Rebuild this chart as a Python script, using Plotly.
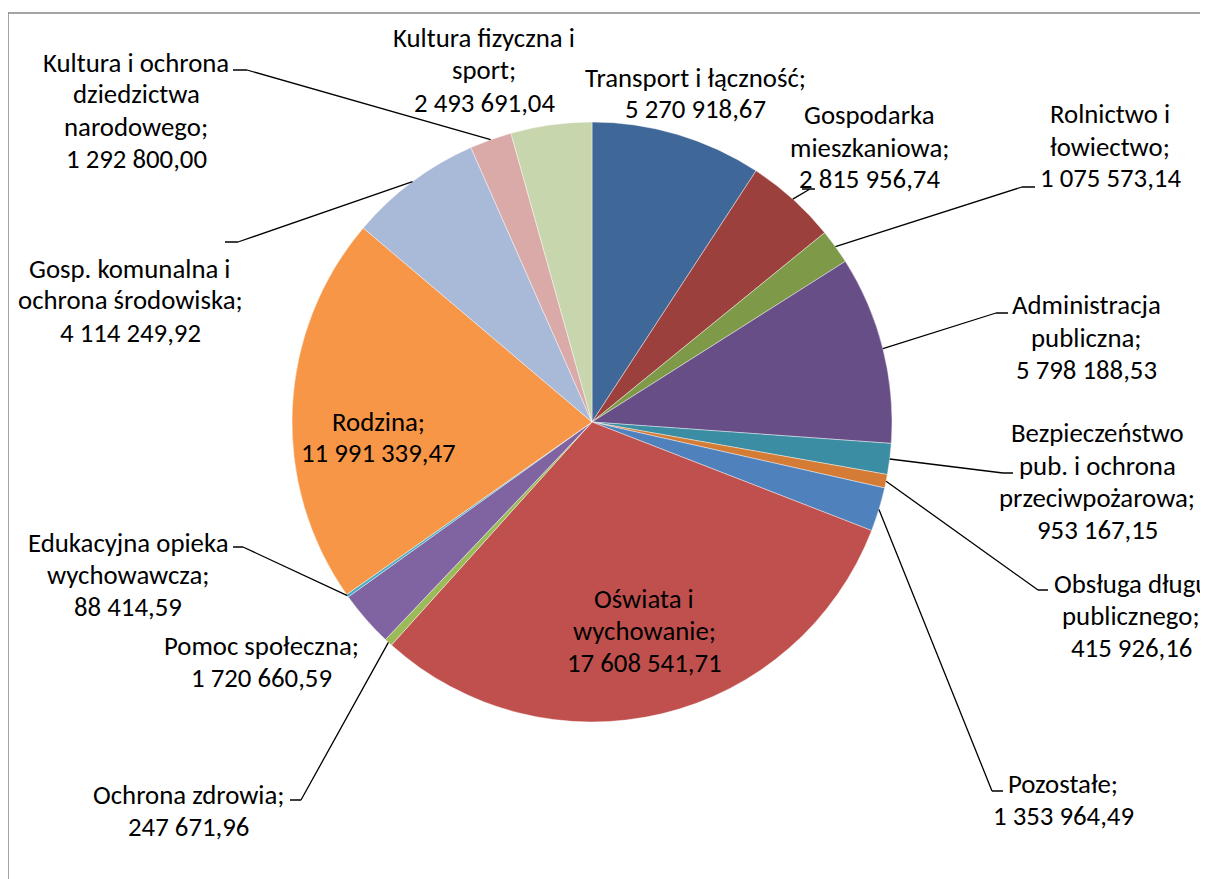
import math
import plotly.graph_objects as go

# dane: wydatki wg działów
categories = [
    "Transport i łączność", "Gospodarka mieszkaniowa", "Rolnictwo i łowiectwo",
    "Administracja publiczna", "Bezpieczeństwo pub. i ochrona przeciwpożarowa",
    "Obsługa długu publicznego", "Pozostałe", "Oświata i wychowanie",
    "Ochrona zdrowia", "Pomoc społeczna", "Edukacyjna opieka wychowawcza",
    "Rodzina", "Gosp. komunalna i ochrona środowiska",
    "Kultura i ochrona dziedzictwa narodowego", "Kultura fizyczna i sport",
]
values = [
    5270918.67, 2815956.74, 1075573.14, 5798188.53, 953167.15,
    415926.16, 1353964.49, 17608541.71, 247671.96, 1720660.59,
    88414.59, 11991339.47, 4114249.92, 1292800.00, 2493691.04,
]
colors = [
    "#3F6899", "#9C403E", "#7E9A48", "#674E86", "#3A8DA2", "#D47C35",
    "#4F81BD", "#C0504D", "#9BBB59", "#8064A2", "#4BACC6", "#F79646",
    "#A9B9D8", "#DAAAA9", "#C7D6AC",
]
# podział nazw na wiersze (jak w oryginale)
label_lines = [
    ["Transport i łączność;"],
    ["Gospodarka", "mieszkaniowa;"],
    ["Rolnictwo i", "łowiectwo;"],
    ["Administracja", "publiczna;"],
    ["Bezpieczeństwo", "pub. i ochrona", "przeciwpożarowa;"],
    ["Obsługa długu", "publicznego;"],
    ["Pozostałe;"],
    ["Oświata i", "wychowanie;"],
    ["Ochrona zdrowia;"],
    ["Pomoc społeczna;"],
    ["Edukacyjna opieka", "wychowawcza;"],
    ["Rodzina;"],
    ["Gosp. komunalna i", "ochrona środowiska;"],
    ["Kultura i ochrona", "dziedzictwa", "narodowego;"],
    ["Kultura fizyczna i", "sport;"],
]

OFF = 8                     # margines strony w przeglądarce
W, H = 1208 - OFF, 879 - OFF
CX, CY, R = 592, 422, 300   # środek i promień koła (px na zrzucie)
LINE_H = 32
FONT = dict(family="Carlito, Calibri, Lato, sans-serif", size=26.8, color="black")

# pozycje etykiet (środek x, y pierwszego wiersza) w px
label_pos = [
    (695, 77), (869, 115), (1110, 114), (1086, 305), (1097, 433),
    (1131, 583), (1063, 783), (644, 598), (188, 794), (261, 645),
    (128, 542), (378, 421), (130, 268), (136, 62), (484, 38),
]
# linie odniesienia: indeks -> (załamanie, odcinek poziomy x0-x1)
leaders = {
    1: ((810, 189), (802, 815)),
    2: ((1022, 187), (1022, 1035)),
    3: ((996, 313), (996, 1008)),
    4: ((1003, 473), (1003, 1013)),
    5: ((1038, 590), (1038, 1048)),
    6: ((992, 791), (992, 1003)),
    8: ((301, 800), (290, 301)),
    10: ((243, 547), (233, 243)),
    12: ((238, 242), (225, 238)),
    13: ((247, 70), (233, 247)),
}


def px(x):
    return (x - OFF) / W


def py(y):
    return 1 - (y - OFF) / H


def fmt(v):
    return f"{v:,.2f}".replace(",", " ").replace(".", ",")


fig = go.Figure(go.Pie(
    labels=categories, values=values, sort=False, direction="clockwise",
    rotation=0, textinfo="none", hoverinfo="label+value",
    marker=dict(colors=colors, line=dict(color="rgba(255,255,255,0.7)", width=0.6)),
    domain=dict(x=[px(CX - R), px(CX + R)], y=[py(CY + R), py(CY - R)]),
    showlegend=False,
))

# etykiety - każdy wiersz osobno, żeby trzymać odstęp jak w Excelu
for i, lines in enumerate(label_lines):
    cx, y0 = label_pos[i]
    for j, t in enumerate(lines + [fmt(values[i])]):
        fig.add_annotation(x=px(cx), y=py(y0 + j * LINE_H), xref="paper", yref="paper",
                           text=t, showarrow=False, xanchor="center", yanchor="middle",
                           font=FONT)

# linie odniesienia liczone od środka kąta wycinka
total = sum(values)
cum = 0
for i, v in enumerate(values):
    mid = (cum + v / 2) / total
    cum += v
    if i not in leaders:
        continue
    ang = 2 * math.pi * mid
    ex, ey = CX + R * math.sin(ang), CY - R * math.cos(ang)
    (bx, by), (h0, h1) = leaders[i]
    path = (f"M {px(ex)},{py(ey)} L {px(bx)},{py(by)} "
            f"M {px(h0)},{py(by)} L {px(h1)},{py(by)}")
    fig.add_shape(type="path", path=path, xref="paper", yref="paper",
                  line=dict(color="black", width=1.3))

# ramka wykresu - tylko lewa i górna krawędź są widoczne
frame = (f"M {px(8)},{py(900)} L {px(8)},{py(13)} L {px(1300)},{py(13)}")
fig.add_shape(type="path", path=frame, xref="paper", yref="paper",
              line=dict(color="#868686", width=1.5))

fig.update_layout(
    width=W, height=H,
    margin=dict(l=0, r=0, t=0, b=0),
    paper_bgcolor="white", plot_bgcolor="white",
)

fig.write_html("out.html")
